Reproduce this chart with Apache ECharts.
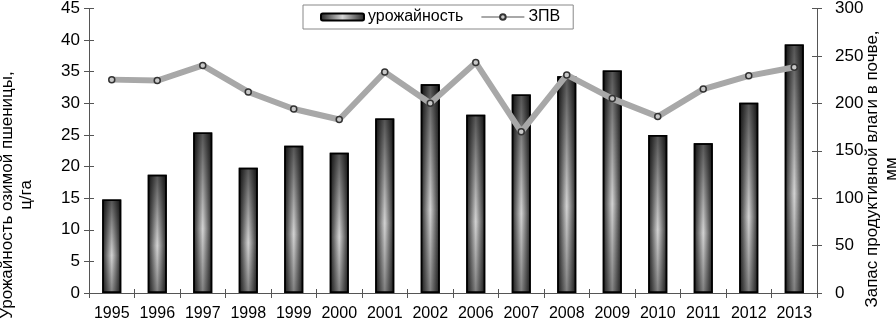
<!DOCTYPE html>
<html><head><meta charset="utf-8">
<script src="https://cdn.jsdelivr.net/npm/echarts@6/dist/echarts.min.js"></script>
<style>html,body{margin:0;padding:0;background:#fff}#c{width:896px;height:327px}</style>
</head><body><div id="c"></div>
<script>
const years = ['1995','1996','1997','1998','1999','2000','2001','2002','2006','2007','2008','2009','2010','2011','2012','2013'];
const yieldVals = [14.8,18.7,25.4,19.8,23.3,22.2,27.6,33.0,28.2,31.4,34.3,35.2,25.0,23.7,30.1,39.3];
const moisture = [225,224,240,212,194,183,233,200,243,170,230,205,186,215,229,238];
const leftTicks = {min:0, max:45, interval:5};
const rightTicks = {min:0, max:300, interval:50};

const FONT = 'Liberation Sans';
const axisCol = '#555';
const chart = echarts.init(document.getElementById('c'));
const yBase = (t, pos, main, margin) => ({
  type:'value', position:pos, min:t.min, max:t.max, interval:t.interval,
  splitLine:{show:false},
  axisLine:{show:main, lineStyle:{color:axisCol, width:1}},
  axisTick:{show:true, inside:!main, length:5, lineStyle:{color:axisCol}},
  axisLabel:{show:main, margin:margin, color:'#000', fontFamily:FONT, fontSize:17}
});
chart.setOption({
  animation:false,
  textStyle:{fontFamily:FONT},
  grid:{left:89, right:79, top:6, bottom:34, containLabel:false},
  legend:{
    data:['урожайность','ЗПВ'], left:303, top:5, padding:[4,13,4,17],
    borderColor:'#888', borderWidth:1, itemWidth:43, itemHeight:7, itemGap:17,
    textStyle:{fontFamily:FONT, fontSize:16, color:'#000', padding:[0,0,0,-1]}
  },
  xAxis:[
    {type:'category', data:years, position:'bottom',
     axisLine:{lineStyle:{color:axisCol}},
     axisTick:{show:true, interval:0, length:5, lineStyle:{color:axisCol}},
     axisLabel:{interval:0, hideOverlap:false, margin:13, color:'#000', fontFamily:FONT, fontSize:16}},
    {type:'category', data:years, position:'bottom',
     axisLine:{show:false},
     axisTick:{show:true, interval:0, inside:true, length:4, lineStyle:{color:axisCol}},
     axisLabel:{show:false}}
  ],
  yAxis:[
    yBase(leftTicks,'left',true,9),
    yBase(leftTicks,'left',false,9),
    yBase(rightTicks,'right',true,18),
    yBase(rightTicks,'right',false,18)
  ],
  graphic:[
    {type:'text', x:17, y:195, rotation:Math.PI/2,
     style:{text:'Урожайность озимой пшеницы,\nц/га', font:'17px "Liberation Sans"', fill:'#000',
            textAlign:'center', textVerticalAlign:'middle', lineHeight:19}},
    {type:'text', x:882, y:169, rotation:Math.PI/2,
     style:{text:'Запас продуктивной влаги в почве,\nмм', font:'17px "Liberation Sans"', fill:'#000',
            textAlign:'center', textVerticalAlign:'middle', lineHeight:19}}
  ],
  series:[
    {name:'урожайность', type:'bar', data:yieldVals, barWidth:19, xAxisIndex:0, yAxisIndex:0,
     itemStyle:{borderColor:'#000', borderWidth:1.5,
       color:new echarts.graphic.LinearGradient(0,0,1,0,[
         {offset:0,color:'#222'},{offset:0.5,color:'#d4d4d4'},{offset:1,color:'#222'}])}},
    {name:'shade', type:'bar', data:yieldVals, barWidth:19, barGap:'-100%', xAxisIndex:0, yAxisIndex:0,
     silent:true,
     itemStyle:{borderColor:'#000', borderWidth:1.5,
       color:new echarts.graphic.LinearGradient(0,0,0,1,[
         {offset:0,color:'rgba(0,0,0,0.6)'},{offset:0.6,color:'rgba(0,0,0,0)'},{offset:1,color:'rgba(0,0,0,0.4)'}])}},
    {name:'ЗПВ', type:'line', data:moisture, xAxisIndex:0, yAxisIndex:2, z:5,
     lineStyle:{color:'#a8a8a8', width:6},
     symbol:'circle', symbolSize:6, showAllSymbol:true,
     itemStyle:{color:'#c8c8c8', borderColor:'#333', borderWidth:1.5}}
  ]
});
</script></body></html>
